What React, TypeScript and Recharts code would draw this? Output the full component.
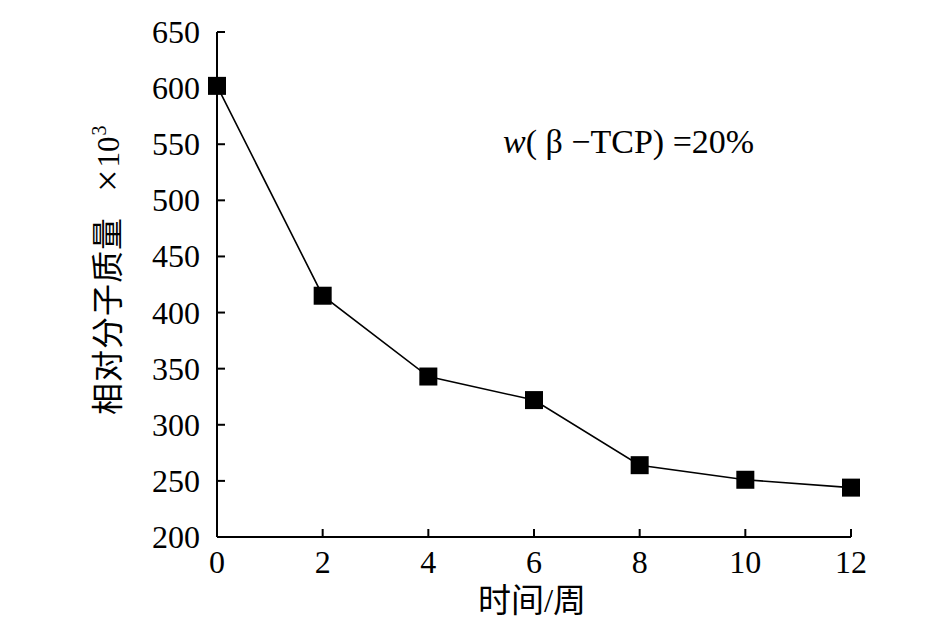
import { LineChart, Line, XAxis, YAxis, Customized } from "recharts";

const weeks = [0, 2, 4, 6, 8, 10, 12];
const molWeight = [602, 415, 343, 322, 264, 251, 244];
const xTicks = [0, 2, 4, 6, 8, 10, 12];
const yTicks = [200, 250, 300, 350, 400, 450, 500, 550, 600, 650];

const data = weeks.map((w, i) => ({ week: w, mw: molWeight[i] }));

const FONT = "'Liberation Serif', 'Times New Roman', 'Noto Sans CJK SC', serif";

// ticks point into the plot, labels sit outside
const YTick = (props: any) => {
    const { x, y, payload } = props;
    return (
        <g>
            <line x1={x} y1={y} x2={x + 8} y2={y} stroke="#000" strokeWidth={2} />
            <text x={x - 17} y={y + 11} textAnchor="end" fontFamily={FONT} fontSize={32} fill="#000">
                {payload.value}
            </text>
        </g>
    );
};

const XTick = (props: any) => {
    const { x, y, payload } = props;
    return (
        <g>
            <line x1={x} y1={y} x2={x} y2={y - 8} stroke="#000" strokeWidth={2} />
            <text x={x} y={y + 36} textAnchor="middle" fontFamily={FONT} fontSize={32} fill="#000">
                {payload.value}
            </text>
        </g>
    );
};

const SquareDot = (props: any) => {
    const { cx, cy } = props;
    if (cx == null || cy == null) return null;
    return <rect x={cx - 9} y={cy - 9} width={18} height={18} fill="#000" />;
};

const Texts = () => (
    <g fontFamily={FONT} fill="#000">
        <text x={532} y={612} textAnchor="middle" fontSize={33}>时间/周</text>
        <text transform="translate(119, 415) rotate(-90)" textAnchor="start" fontSize={32}>
            <tspan letterSpacing={1}>相对分子质量</tspan>
            <tspan dx={25} fontSize={40} dy={2}>×</tspan>
            <tspan dx={2} dy={-2} fontSize={31}>10</tspan>
            <tspan dx={1} dy={-13} fontSize={20}>3</tspan>
        </text>
        <text x={503} y={153} fontSize={34}>
            <tspan fontStyle="italic">w</tspan>( β −TCP) =20%
        </text>
    </g>
);

export default function App() {
    return (
        <div style={{ position: "absolute", left: 0, top: 0, width: 945, height: 626, background: "#fff" }}>
            <LineChart
                width={945}
                height={626}
                data={data}
                margin={{ top: 32, right: 94, bottom: 59, left: 157 }}
            >
                <XAxis
                    dataKey="week"
                    type="number"
                    domain={[0, 12]}
                    ticks={xTicks}
                    height={30}
                    axisLine={{ stroke: "#000", strokeWidth: 2 }}
                    tickLine={false}
                    tickSize={0}
                    tickMargin={0}
                    tick={<XTick />}
                    interval={0}
                />
                <YAxis
                    type="number"
                    domain={[200, 650]}
                    ticks={yTicks}
                    width={60}
                    axisLine={{ stroke: "#000", strokeWidth: 2 }}
                    tickLine={false}
                    tickSize={0}
                    tickMargin={0}
                    tick={<YTick />}
                    interval={0}
                />
                <Line
                    dataKey="mw"
                    type="linear"
                    stroke="#000"
                    strokeWidth={1.6}
                    dot={<SquareDot />}
                    isAnimationActive={false}
                />
                <Customized component={<Texts />} />
            </LineChart>
        </div>
    );
}
